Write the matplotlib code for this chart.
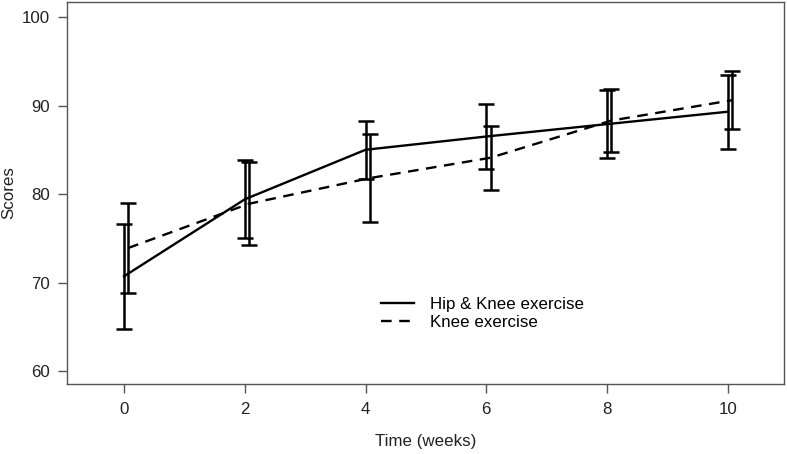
import matplotlib
matplotlib.use("Agg")
import matplotlib.pyplot as plt
import numpy as np
from matplotlib.lines import Line2D

plt.rcParams['font.family'] = ['Liberation Sans', 'DejaVu Sans']

weeks = [0, 2, 4, 6, 8, 10]
hip_knee_mean = [70.7, 79.4, 85.0, 86.5, 87.9, 89.3]
hip_knee_err = [5.9, 4.4, 3.3, 3.7, 3.8, 4.2]
knee_mean = [73.9, 78.9, 81.8, 84.1, 88.3, 90.6]
knee_err = [5.1, 4.7, 5.0, 3.6, 3.6, 3.25]
series_labels = ["Hip & Knee exercise", "Knee exercise"]
x_ticks = [0, 2, 4, 6, 8, 10]
y_ticks = [60, 70, 80, 90, 100]

offset = 0.07
fs = 12.2

fig = plt.figure(figsize=(7.87, 4.54), dpi=100)
ax = fig.add_axes([67/787, 1 - 384/454, 717/787, 382/454])

x1 = np.array(weeks, dtype=float)
x2 = x1 + offset

ax.errorbar(x1, hip_knee_mean, yerr=hip_knee_err, color='black', lw=1.7,
            elinewidth=1.8, capsize=5.8, capthick=1.8, label=series_labels[0])
ax.errorbar(x2, knee_mean, yerr=knee_err, color='black', lw=1.7,
            elinewidth=1.8, capsize=5.8, capthick=1.8, ls=(0, (4.5, 3.2)),
            label=series_labels[1])

ax.set_xlim(-0.944, 10.93)
ax.set_ylim(58.53, 101.7)
ax.set_xticks(x_ticks)
ax.set_yticks(y_ticks)
for s in ax.spines.values():
    s.set_color('#555555')
    s.set_linewidth(1.0)
ax.tick_params(axis='both', direction='out', length=6.5, width=1.0, color='#555555',
               labelsize=fs, labelcolor='#222222')
ax.tick_params(axis='x', pad=6.5)
ax.tick_params(axis='y', pad=5.5)

ax.set_xlabel("Time (weeks)", fontsize=fs, color='#222222')
ax.set_ylabel("Scores", fontsize=fs, color='#222222')
ax.xaxis.set_label_coords(0.5, -0.130)
ax.yaxis.set_label_coords(-0.071, 0.5)

handles = [Line2D([], [], color='black', lw=1.7),
           Line2D([], [], color='black', lw=1.7, ls=(0, (4.5, 3.2)))]
ax.legend(handles, series_labels, loc='center left', bbox_to_anchor=(0.438, 0.1846),
          frameon=False, fontsize=fs, handlelength=1.95, handletextpad=0.95,
          labelspacing=0.2, borderpad=0, borderaxespad=0)

fig.savefig("out.png", dpi=100)
